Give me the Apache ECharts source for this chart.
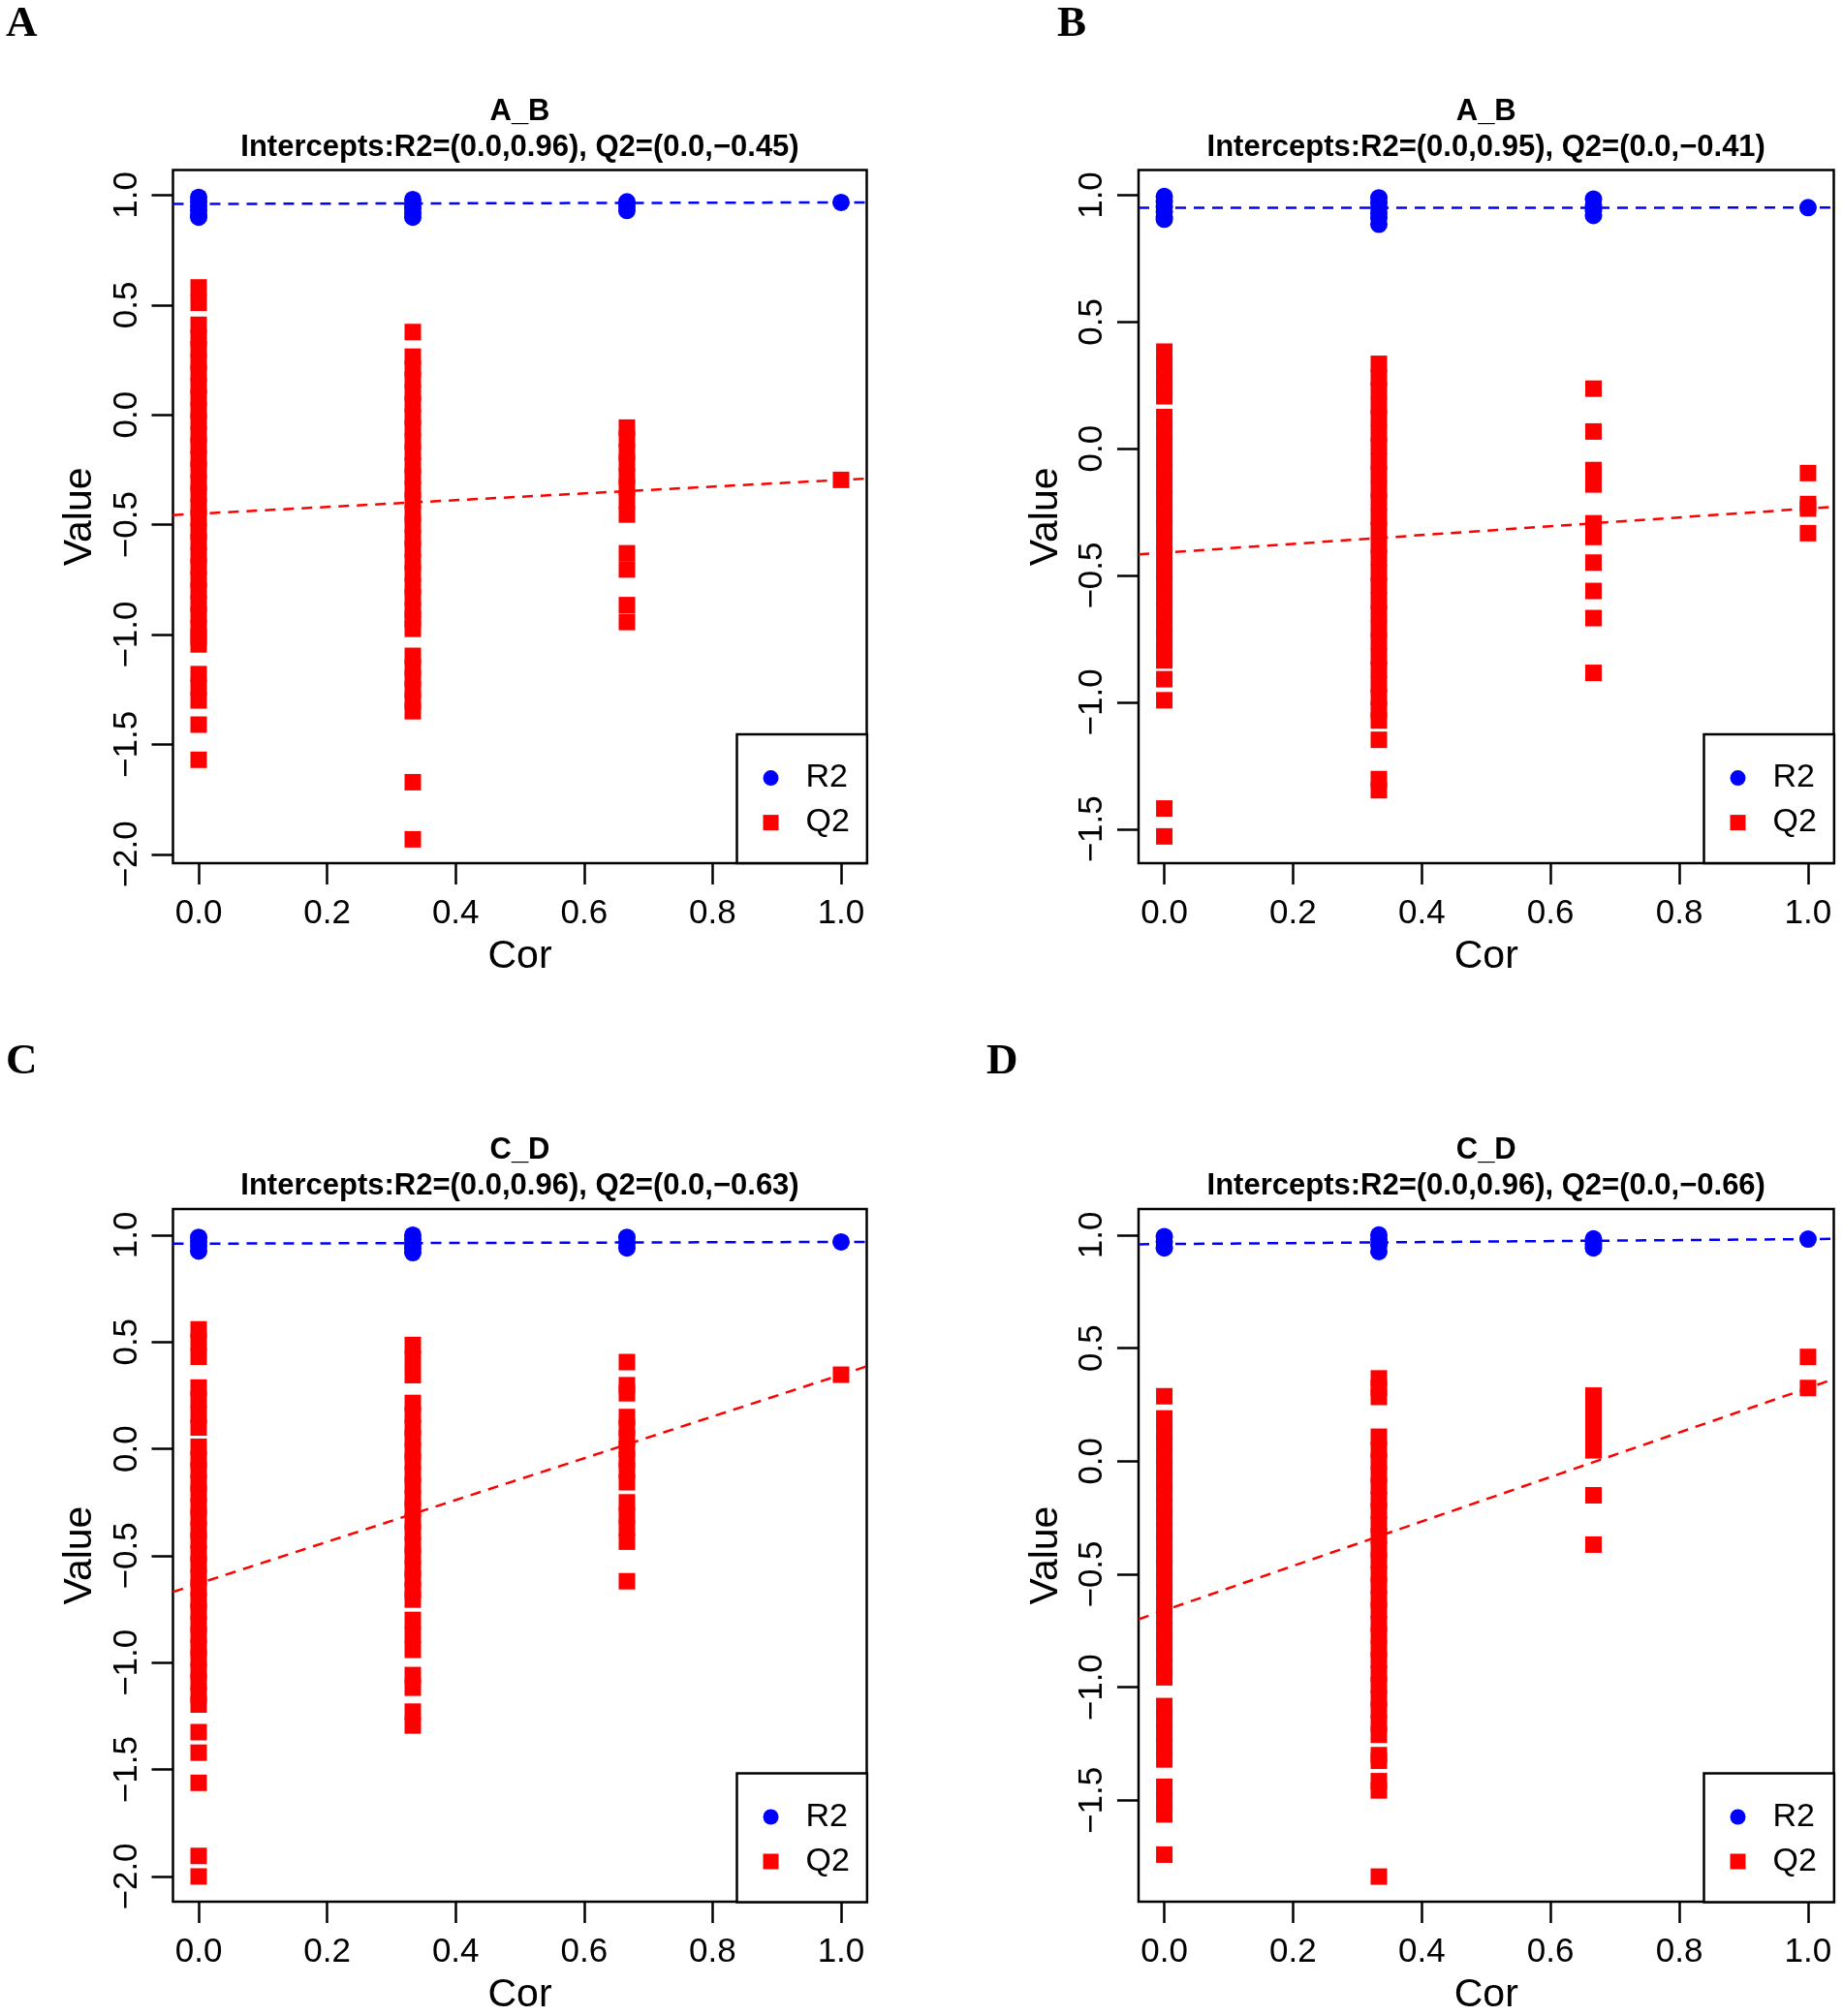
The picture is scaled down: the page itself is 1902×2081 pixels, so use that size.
<!doctype html>
<html lang="en">
<head>
    <meta charset="UTF-8">
    <title>Permutation test</title>
    <script src="https://cdn.jsdelivr.net/npm/echarts@6.0.0/dist/echarts.min.js"></script>
    <style>
        body { margin: 0; background: #fff; }
    </style>
</head>
<body>
    <div id="main" style="width: 1902px;height:2081px;"></div>
    <script>
        // x positions of the permutation groups
        var cor = [0, 1 / 3, 2 / 3, 1];
        var xTicks = [0, 0.2, 0.4, 0.6, 0.8, 1.0];
        var yTicksAC = [-2, -1.5, -1, -0.5, 0, 0.5, 1];
        var yTicksBD = [-1.5, -1, -0.5, 0, 0.5, 1];

        var titles = ['A_B', 'A_B', 'C_D', 'C_D'];
        var letters = ['A', 'B', 'C', 'D'];
        var r2Intercept = [0.96, 0.95, 0.96, 0.96];
        var q2Intercept = [-0.45, -0.41, -0.63, -0.66];
        // values of the real model at cor = 1 (end of the regression lines)
        var r2Model = [0.967, 0.951, 0.968, 0.982];
        var q2Model = [-0.296, -0.236, 0.347, 0.3235];
        var yMin = [-2.041, -1.635, -2.118, -1.948];
        var yMax = [1.114, 1.099, 1.122, 1.115];

        // one list per cor group
        var A_R2 = [
            [0.99, 0.97, 0.95, 0.93, 0.91, 0.90],
            [0.98, 0.96, 0.94, 0.92, 0.90],
            [0.97, 0.95, 0.93],
            [0.967]
        ];
        var A_Q2 = [
            [0.58, 0.51, 0.41, 0.35, 0.30, 0.24, 0.19, 0.13, 0.08, 0.02, -0.03, -0.09, -0.14, -0.20, -0.25, -0.31,
                -0.36, -0.42, -0.47, -0.53, -0.58, -0.64, -0.69, -0.75, -0.80, -0.86, -0.91, -0.97, -1.01, -1.045,
                -1.18, -1.24, -1.30, -1.41, -1.57],
            [0.377, 0.265, 0.21, 0.16, 0.10, 0.05, -0.01, -0.06, -0.12, -0.17, -0.23, -0.28, -0.34, -0.39, -0.45,
                -0.50, -0.56, -0.61, -0.67, -0.72, -0.78, -0.83, -0.89, -0.93, -0.974, -1.097, -1.15, -1.20, -1.25,
                -1.30, -1.349, -1.672, -1.932],
            [-0.058, -0.11, -0.17, -0.22, -0.28, -0.33, -0.39, -0.454, -0.63, -0.704, -0.866, -0.943],
            [-0.296]
        ];

        var B_R2 = [
            [0.995, 0.975, 0.955, 0.935, 0.915, 0.905],
            [0.99, 0.97, 0.95, 0.93, 0.91, 0.885],
            [0.985, 0.96, 0.94, 0.92],
            [0.951]
        ];
        var B_Q2 = [
            [0.383, 0.33, 0.28, 0.24, 0.207, 0.125, 0.07, 0.02, -0.04, -0.09, -0.15, -0.20, -0.26, -0.31, -0.37,
                -0.42, -0.48, -0.53, -0.59, -0.64, -0.70, -0.75, -0.80, -0.835, -0.909, -0.992, -1.419, -1.529],
            [0.335, 0.28, 0.23, 0.17, 0.12, 0.06, 0.01, -0.05, -0.10, -0.16, -0.21, -0.27, -0.32, -0.38, -0.43,
                -0.49, -0.54, -0.60, -0.65, -0.71, -0.76, -0.82, -0.87, -0.93, -0.98, -1.03, -1.072, -1.148,
                -1.303, -1.347],
            [0.237, 0.068, -0.084, -0.112, -0.141, -0.294, -0.32, -0.348, -0.449, -0.561, -0.668, -0.884],
            [-0.096, -0.218, -0.236, -0.333]
        ];

        var C_R2 = [
            [0.99, 0.97, 0.95, 0.925],
            [1.0, 0.98, 0.96, 0.94, 0.918],
            [0.99, 0.965, 0.94],
            [0.968]
        ];
        var C_Q2 = [
            [0.559, 0.50, 0.431, 0.287, 0.23, 0.16, 0.10, 0.010, -0.05, -0.10, -0.16, -0.21, -0.27, -0.32, -0.38,
                -0.43, -0.49, -0.54, -0.60, -0.65, -0.71, -0.76, -0.82, -0.87, -0.93, -0.98, -1.04, -1.09, -1.15,
                -1.196, -1.325, -1.421, -1.562, -1.904, -2.0],
            [0.486, 0.42, 0.345, 0.215, 0.16, 0.10, 0.05, -0.01, -0.06, -0.12, -0.17, -0.23, -0.28, -0.34, -0.39,
                -0.45, -0.50, -0.56, -0.61, -0.66, -0.705, -0.80, -0.87, -0.94, -1.058, -1.117, -1.229, -1.294],
            [0.406, 0.298, 0.26, 0.149, 0.10, 0.05, 0.0, -0.05, -0.10, -0.156, -0.25, -0.31, -0.37, -0.434, -0.619],
            [0.347]
        ];

        var D_R2 = [
            [0.993, 0.97, 0.943],
            [1.0, 0.98, 0.955, 0.927],
            [0.983, 0.96, 0.943],
            [0.982]
        ];
        var D_Q2 = [
            [0.287, 0.189, 0.13, 0.08, 0.02, -0.03, -0.09, -0.14, -0.20, -0.25, -0.31, -0.36, -0.42, -0.47, -0.53,
                -0.58, -0.64, -0.69, -0.75, -0.80, -0.86, -0.91, -0.956, -1.083, -1.14, -1.20, -1.26, -1.319, -1.44,
                -1.50, -1.562, -1.74],
            [0.366, 0.325, 0.284, 0.108, 0.05, 0.0, -0.06, -0.11, -0.17, -0.22, -0.28, -0.33, -0.39, -0.44, -0.50,
                -0.55, -0.61, -0.66, -0.72, -0.77, -0.83, -0.88, -0.94, -0.99, -1.05, -1.10, -1.16, -1.21, -1.30,
                -1.325, -1.415, -1.456, -1.837],
            [0.29, 0.24, 0.19, 0.14, 0.09, 0.048, -0.151, -0.369],
            [0.461, 0.3235]
        ];

        var r2Sets = [A_R2, B_R2, C_R2, D_R2];
        var q2Sets = [A_Q2, B_Q2, C_Q2, D_Q2];

        // layout of the four panels (pixels)
        var boxes = [
            {left: 178.5, top: 175.6, width: 716, height: 715.5},
            {left: 1175, top: 175.6, width: 717.5, height: 715.5},
            {left: 178.5, top: 1248, width: 716, height: 715.5},
            {left: 1175, top: 1248, width: 717.5, height: 715.5}
        ];
        var letterLeft = [6, 1091, 6, 1018];

        var FONT = 'Liberation Sans, Arial, Helvetica, sans-serif';
        var BLUE = '#0000ff', RED = '#ff0000';
        var XMIN = -0.04, XMAX = 1.04;

        function fmt1(v) {
            return (v < 0 ? '\u2212' : '') + Math.abs(v).toFixed(1);
        }
        function fmt2(v) {
            return (v < 0 ? '\u2212' : '') + Math.abs(v).toFixed(2);
        }
        function points(cols) {
            var out = [];
            cols.forEach(function (col, i) {
                col.forEach(function (v) {
                    out.push([cor[i], v]);
                });
            });
            return out;
        }
        function fitLine(b, end) {
            // straight line through (0, intercept) and (1, model value), drawn across the whole x range
            return [[XMIN, b + (end - b) * XMIN], [XMAX, b + (end - b) * XMAX]];
        }

        var grid = [], xAxis = [], yAxis = [], series = [], title = [], legend = [];

        boxes.forEach(function (b, k) {
            var cx = b.left + b.width / 2;
            var dy = b.top - boxes[0].top;
            var yTicks = (k % 2 === 0) ? yTicksAC : yTicksBD;

            grid.push({
                left: b.left, top: b.top, width: b.width, height: b.height,
                show: true, borderColor: '#000', borderWidth: 2.5, backgroundColor: 'transparent'
            });

            xAxis.push({
                type: 'value', gridIndex: k, min: XMIN, max: XMAX, position: 'bottom',
                name: 'Cor', nameLocation: 'middle', nameGap: 76,
                nameTextStyle: {fontFamily: FONT, fontSize: 41, color: '#000'},
                axisLine: {show: false, onZero: false},
                splitLine: {show: false},
                axisTick: {show: true, length: 22, customValues: xTicks, lineStyle: {color: '#000', width: 2.5}},
                axisLabel: {
                    customValues: xTicks, margin: 35, fontFamily: FONT, fontSize: 35, color: '#000',
                    formatter: fmt1
                }
            });

            yAxis.push({
                type: 'value', gridIndex: k, min: yMin[k], max: yMax[k], position: 'left',
                name: 'Value', nameLocation: 'middle', nameGap: 75, nameRotate: 90,
                nameTextStyle: {fontFamily: FONT, fontSize: 41, color: '#000'},
                axisLine: {show: false, onZero: false},
                splitLine: {show: false},
                axisTick: {show: true, length: 22, customValues: yTicks, lineStyle: {color: '#000', width: 2.5}},
                axisLabel: {
                    customValues: yTicks, margin: 30, rotate: 90, fontFamily: FONT, fontSize: 35, color: '#000',
                    formatter: fmt1
                }
            });

            series.push({
                name: 'R2', type: 'scatter', xAxisIndex: k, yAxisIndex: k,
                symbol: 'circle', symbolSize: 18,
                itemStyle: {color: BLUE, opacity: 1},
                data: points(r2Sets[k]), z: 2
            });
            series.push({
                name: 'Q2', type: 'scatter', xAxisIndex: k, yAxisIndex: k,
                symbol: 'rect', symbolSize: 17,
                itemStyle: {color: RED, opacity: 1},
                data: points(q2Sets[k]), z: 2
            });
            series.push({
                name: 'R2 fit', type: 'line', xAxisIndex: k, yAxisIndex: k,
                symbol: 'none', silent: true,
                lineStyle: {color: BLUE, width: 2.5, type: [11, 8]},
                data: fitLine(r2Intercept[k], r2Model[k]), z: 3
            });
            series.push({
                name: 'Q2 fit', type: 'line', xAxisIndex: k, yAxisIndex: k,
                symbol: 'none', silent: true,
                lineStyle: {color: RED, width: 2.5, type: [11, 8]},
                data: fitLine(q2Intercept[k], q2Model[k]), z: 3
            });

            title.push({
                text: titles[k],
                subtext: 'Intercepts:R2=(0.0,' + r2Intercept[k].toFixed(2) + '), Q2=(0.0,' + fmt2(q2Intercept[k]) + ')',
                left: cx, top: 100 + dy, textAlign: 'center', padding: 0, itemGap: 6,
                textStyle: {fontFamily: FONT, fontSize: 31, fontWeight: 'bold', color: '#000', lineHeight: 31},
                subtextStyle: {fontFamily: FONT, fontSize: 31, fontWeight: 'bold', color: '#000', lineHeight: 31}
            });
            title.push({
                text: letters[k],
                left: letterLeft[k], top: 3 + (k >= 2 ? 1071 : 0), padding: 0,
                textStyle: {
                    fontFamily: 'Liberation Serif, Times New Roman, serif', fontSize: 45,
                    fontWeight: 'bold', color: '#000', lineHeight: 45
                }
            });

            legend.push({
                orient: 'vertical',
                left: b.left + b.width - 134, top: b.top + b.height - 133,
                padding: [28, 18, 25, 27], itemGap: 12, itemWidth: 16, itemHeight: 16,
                backgroundColor: '#fff', borderColor: '#000', borderWidth: 2.5,
                selectedMode: false,
                textStyle: {fontFamily: FONT, fontSize: 34, color: '#000', lineHeight: 34, padding: [0, 0, 0, 23]},
                data: [{name: 'R2', icon: 'circle'}, {name: 'Q2', icon: 'rect'}]
            });
        });

        var myChart = echarts.init(document.getElementById('main'));
        myChart.setOption({
            backgroundColor: '#fff',
            animation: false,
            title: title,
            legend: legend,
            grid: grid,
            xAxis: xAxis,
            yAxis: yAxis,
            series: series
        });
    </script>
</body>
</html>
